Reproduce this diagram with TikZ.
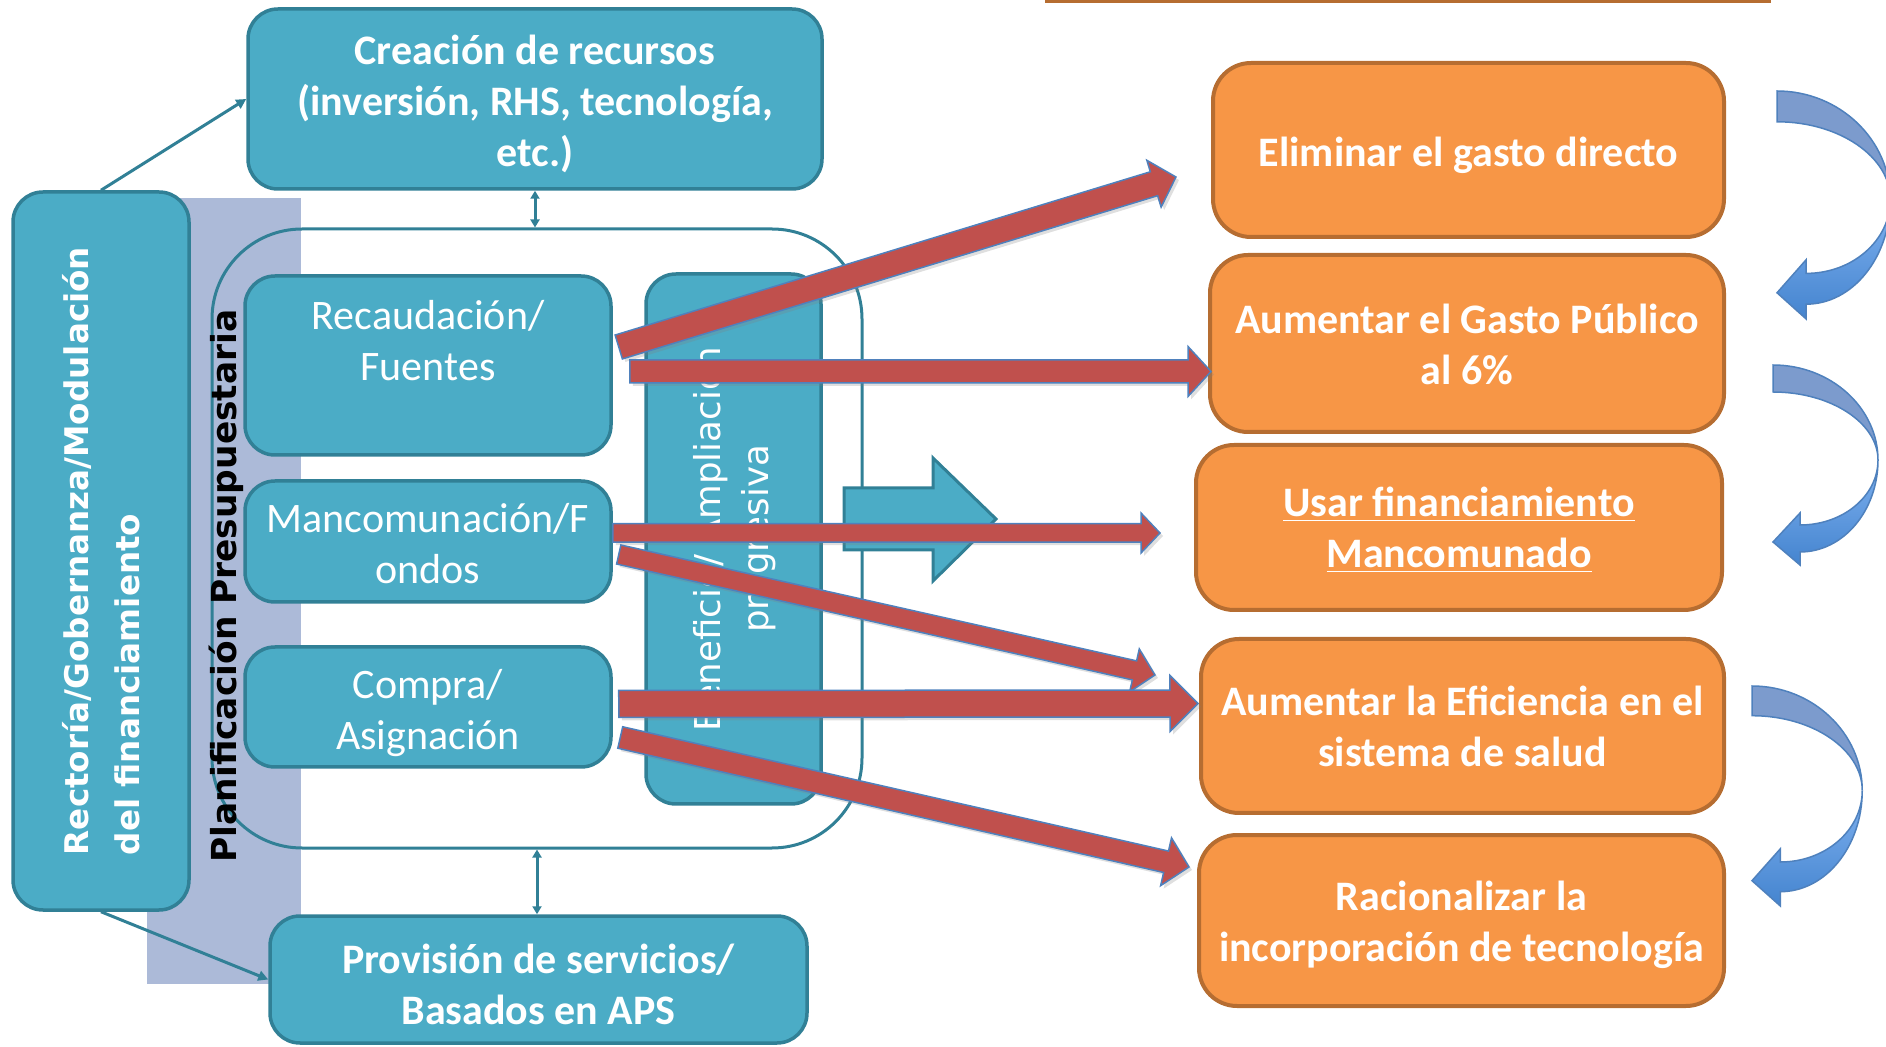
\documentclass[tikz,border=0pt]{standalone}
\usepackage{fontspec}
\setmainfont{Carlito}
\newfontfamily\vfont{DejaVu Sans}
\usetikzlibrary{arrows.meta,calc,shadows}

\definecolor{tealfill}{RGB}{75,172,198}
\definecolor{tealline}{RGB}{49,128,150}
\definecolor{orangefill}{RGB}{247,150,70}
\definecolor{orangeline}{RGB}{182,109,49}
\definecolor{redfill}{RGB}{192,80,77}
\definecolor{blueline}{RGB}{79,129,189}
\definecolor{bluedark}{RGB}{124,155,205}
\definecolor{bluelight}{RGB}{128,178,240}
\definecolor{bluemid}{RGB}{68,132,207}
\definecolor{hatchfill}{RGB}{172,186,216}

\newcommand{\topstrut}[1]{\rule{0pt}{#1}}

\tikzset{
  tealbox/.style={draw=tealline, fill=tealfill, line width=1.75pt, rounded corners=15pt,
    inner sep=0pt, text=white, align=center, font=\fontsize{21}{25.5}\selectfont},
  tealbold/.style={tealbox, font=\bfseries\fontsize{21}{25.5}\selectfont},
  orangebox/.style={draw=orangeline, fill=orangefill, line width=2pt, rounded corners=19pt,
    inner sep=0pt, text=white, align=center, font=\bfseries\fontsize{21}{25.5}\selectfont},
  redblock/.style={fill=redfill, draw=blueline, line width=0.75pt,
    drop shadow={opacity=0.25, shadow xshift=1.5pt, shadow yshift=-1.5pt}},
  link/.style={draw=tealline, line width=1.5pt},
  tip/.style={-{Triangle[length=5pt,width=5pt]}},
  twotip/.style={{Triangle[length=4pt,width=4.5pt]}-{Triangle[length=4pt,width=4.5pt]}},
  turnarrow/.pic={
    \draw[draw=blueline, line width=0.75pt, fill=bluedark]
      (0,0) .. controls (58,0) and (105,43) .. (105,95)
      .. controls (105,58) and (58,27) .. (0,27) -- cycle;
    \draw[draw=blueline, line width=0.75pt, top color=bluelight, bottom color=bluemid]
      (105,95) .. controls (105,146) and (70,187) .. (27,187) -- (27,200) -- (0,177)
      -- (27,148) -- (27,160) .. controls (70,160) and (105,131) .. (105,95) -- cycle;
  }
}

% from, to, shaft width, head width, head length
\newcommand{\redarrow}[5]{%
  \draw[redblock] let \p1=(#1), \p2=(#2), \n1={atan2(\y2-\y1,\x2-\x1)},
    \n2={veclen(\x2-\x1,\y2-\y1)} in [shift={(\p1)}, rotate=\n1]
    (0pt,{-#3/2}) -- ({\n2*1pt-#5},{-#3/2}) -- ({\n2*1pt-#5},{-#4/2}) -- ({\n2*1pt},0pt)
    -- ({\n2*1pt-#5},{#4/2}) -- ({\n2*1pt-#5},{#3/2}) -- (0pt,{#3/2}) -- cycle;
}

\begin{document}
\begin{tikzpicture}[x=0.5pt,y=-0.5pt]
  \useasboundingbox (0,0) rectangle (1886,1047);

  \fill[hatchfill] (147,198) rectangle (301,984);
  \node[tealbox, rotate=90, align=left, minimum width=359pt, minimum height=88pt,
    font=\vfont\bfseries\fontsize{16.3}{25.5}\selectfont] (rect) at (101,551)
    {Rectoría/Gobernanza/Modulación\\del financiamiento};
  \node[draw=tealline, line width=1.5pt, rounded corners=45pt, minimum width=325pt,
    minimum height=309.5pt] (cont) at (537,538.5) {};
  \node[rotate=90, inner sep=0pt, font=\vfont\bfseries\fontsize{17.2}{20}\selectfont] (plan)
    at (226,586) {Planificación Presupuestaria};

  \node[tealbold, minimum width=287pt, minimum height=90pt] (crea) at (535,99)
    {\topstrut{20pt}Creación de recursos\\(inversión, RHS, tecnología,\\etc.)};
  \node[tealbox, minimum width=183pt, minimum height=89.5pt] (rec) at (428,365.5) {};
  \node[text=white, align=center, font=\fontsize{21}{25.5}\selectfont] (rectxt) at (428,341)
    {Recaudación/\\Fuentes};
  \node[tealbox, minimum width=183pt, minimum height=60.5pt] (manc) at (428,541.5)
    {\topstrut{16.5pt}Mancomunación/F\\ondos};
  \node[tealbox, minimum width=183pt, minimum height=60pt] (comp) at (428,707)
    {\topstrut{20.5pt}Compra/\\Asignación};
  \node[tealbox, rotate=90, minimum width=265pt, minimum height=87.5pt,
    font=\vfont\fontsize{17.8}{24}\selectfont] (ben) at (733.5,539)
    {Beneficio/ Ampliación\\progresiva};
  \node[tealbold, minimum width=268.5pt, minimum height=63.5pt] (prov) at (538.5,979.5)
    {\topstrut{20pt}Provisión de servicios/\\Basados en APS};

  \draw[link, tip] (rect.east) -- (crea.west);
  \draw[link, tip] (rect.west) -- (prov.west);
  \draw[link, twotip] (crea.south) -- (crea.south |- cont.north);
  \draw[link, twotip] (cont.south) -- (cont.south |- prov.north);

  \draw[tealline, line width=1.5pt, fill=tealfill] (844,488) -- (933,488) -- (933,458)
    -- (996,519) -- (933,581) -- (933,550) -- (844,550) -- cycle;

  \node[orangebox, minimum width=255.5pt, minimum height=87pt] (elim) at (1468.5,150)
    {\topstrut{19.7pt}Eliminar el gasto directo};
  \node[orangebox, minimum width=257pt, minimum height=88.5pt] (gasto) at (1467,343.5)
    {\topstrut{16pt}Aumentar el Gasto Público\\al 6\%};
  \node[orangebox, minimum width=263pt, minimum height=82.5pt] (usar) at (1459,527.5)
    {\topstrut{17pt}\underline{Usar financiamiento}\\\underline{Mancomunado}};
  \node[orangebox, minimum width=261.5pt, minimum height=87pt] (efic) at (1462.5,726)
    {Aumentar la Eficiencia en el\\sistema de salud};
  \node[orangebox, minimum width=262.5pt, minimum height=85.5pt] (racio) at (1461.5,920.5)
    {\topstrut{18.7pt}Racionalizar la\\incorporación de tecnología};

  \redarrow{[shift={(6,-18.5)}]rec.east}{[shift={(-35,27)}]elim.west}{12.5pt}{24.5pt}{11.5pt}
  \redarrow{[shift={(17,6)}]rec.east}{[shift={(3,28)}]gasto.west}{11.5pt}{25pt}{11.5pt}
  \redarrow{[shift={(0,-8.5)}]manc.east}{[shift={(-34,5.5)}]usar.west}{9.25pt}{20pt}{9.5pt}
  \redarrow{[shift={(6,13)}]manc.east}{[shift={(-44,-51)}]efic.west}{9.75pt}{22pt}{10.5pt}
  \redarrow{[shift={(6,-3)}]comp.east}{[shift={(-1,-22.5)}]efic.west}{13.5pt}{28pt}{14pt}
  \redarrow{[shift={(7.5,30.5)}]comp.east}{[shift={(-8,-53.5)}]racio.west}{11pt}{24.5pt}{11.75pt}

  \pic[xscale=1.08, yscale=1.14] at (1777,91) {turnarrow};
  \pic at (1773,365) {turnarrow};
  \pic[xscale=1.05, yscale=1.1] at (1752,686) {turnarrow};

  \draw[orangeline, line width=1.5pt] (1045,1.5) -- (1771,1.5);
\end{tikzpicture}
\end{document}
